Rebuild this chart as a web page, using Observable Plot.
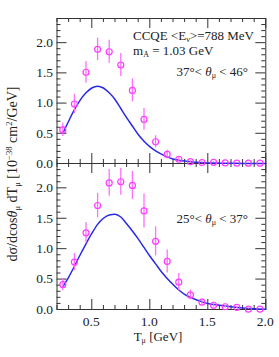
<!DOCTYPE html>
<html><head><meta charset="utf-8">
<script src="https://cdn.jsdelivr.net/npm/d3@7"></script>
<script src="https://cdn.jsdelivr.net/npm/@observablehq/plot@0.6"></script>
<style>
body{margin:0;background:#fff}
#chart{position:relative;width:279px;height:357px;background:#fff}
#chart svg{position:absolute;left:0;top:0}
</style></head><body><div id="chart"></div>
<script>
// ---- data ----
const binCenters = [0.25,0.35,0.45,0.55,0.65,0.75,0.85,0.95,1.05,1.15,1.25,1.35,1.45,1.55,1.65,1.75,1.85,1.95];
// 37° < theta < 46°
const upperValues = [0.555,0.985,1.51,1.89,1.85,1.63,1.21,0.73,0.36,0.15,0.07,0.03,0.015,0.02,0.01,0.006,0.005,0.005];
const upperErrors = [0.11,0.16,0.18,0.185,0.19,0.19,0.19,0.18,0.10,0.07,0.04,0.02,0.01,0.01,0.008,0.005,0.005,0.005];
// 25° < theta < 37°
const lowerValues = [0.41,0.78,1.26,1.71,2.08,2.10,2.04,1.62,1.12,0.79,0.45,0.24,0.12,0.07,0.045,0.035,0.005,0.005];
const lowerErrors = [0.10,0.14,0.17,0.20,0.22,0.22,0.23,0.28,0.24,0.19,0.14,0.08,0.05,0.03,0.02,0.02,0.005,0.005];
// model curves (m_A = 1.03 GeV)
const curveT     = [0.25,0.30,0.35,0.40,0.45,0.50,0.55,0.60,0.65,0.70,0.75,0.80,0.85,0.90,0.95,1.00,1.05,1.10,1.15,1.20,1.25,1.30,1.35,1.40,1.45,1.50,1.60,1.70,1.80,1.90,2.00];
const upperCurve = [0.50,0.70,0.89,1.05,1.17,1.25,1.28,1.25,1.17,1.06,0.91,0.76,0.62,0.48,0.37,0.28,0.21,0.155,0.11,0.075,0.055,0.04,0.03,0.02,0.015,0.01,0.006,0.004,0.002,0.001,0.0];
const lowerCurve = [0.375,0.53,0.71,0.90,1.08,1.25,1.40,1.50,1.555,1.565,1.52,1.41,1.29,1.16,1.02,0.88,0.75,0.62,0.51,0.41,0.32,0.25,0.20,0.16,0.125,0.10,0.07,0.045,0.025,0.012,0.005];
// axes
const xDomain = [0.2, 2.0];
const yDomain = [0, 2.4];
const xMajor = [0.5, 1.0, 1.5, 2.0];
const xMinor = [0.2,0.3,0.4,0.6,0.7,0.8,0.9,1.1,1.2,1.3,1.4,1.6,1.7,1.8,1.9];
const yMajor = [0.0, 0.5, 1.0, 1.5, 2.0];
const yMinor = [0.1,0.2,0.3,0.4,0.6,0.7,0.8,0.9,1.1,1.2,1.3,1.4,1.6,1.7,1.8,1.9,2.1,2.2,2.3];

const W = 279, ML = 56.5, MR = 13.7;
const FONT = "Liberation Serif";
const FS = "13.5px";
const PT = "#ff3cff", BAR = "#ff70ff", LINE = "#2a2ae6", TICK = "#333";

function panel({values, errors, curve, height, marginTop, marginBottom, background}) {
  const innerH = height - marginTop - marginBottom;
  const innerW = W - ML - MR;
  const pts = binCenters.map((t, i) => ({t, v: values[i], e: errors[i]}));
  const line = curveT.map((t, i) => ({t, v: curve[i]}));
  const tx = (vals, len) => [
    Plot.tickX(vals, {x: d => d, insetTop: innerH - len, stroke: TICK}),
    Plot.tickX(vals, {x: d => d, insetBottom: innerH - len, stroke: TICK})
  ];
  const ty = (vals, len) => [
    Plot.tickY(vals, {y: d => d, insetRight: innerW - len, stroke: TICK}),
    Plot.tickY(vals, {y: d => d, insetLeft: innerW - len, stroke: TICK})
  ];
  return Plot.plot({
    width: W, height, marginLeft: ML, marginRight: MR, marginTop, marginBottom,
    style: {fontFamily: FONT, fontSize: FS, background, color: "#222"},
    x: {domain: xDomain, axis: null},
    y: {domain: yDomain, axis: null},
    marks: [
      ...tx(xMinor, 4), ...tx(xMajor, 10),
      ...ty(yMinor, 4), ...ty(yMajor, 10),
      Plot.frame({stroke: TICK}),
      Plot.line(line, {x: "t", y: "v", stroke: LINE, strokeWidth: 1.5, curve: "monotone-x"}),
      Plot.ruleX(pts, {x: "t", y1: d => Math.max(0, d.v - d.e), y2: d => d.v + d.e, stroke: BAR, strokeWidth: 1.3}),
      Plot.dot(pts, {x: "t", y: "v", r: 3, stroke: PT, fill: "none", strokeWidth: 1.2}),
      Plot.axisY({ticks: yMajor, anchor: "left", tickSize: 0, tickPadding: 4, tickFormat: d3.format(".1f"), label: null})
    ]
  });
}

// upper panel: y range 163 → 18 ; extra bottom room so the "0.0" label is not cut
const upper = panel({values: upperValues, errors: upperErrors, curve: upperCurve,
  height: 175, marginTop: 18, marginBottom: 12, background: "transparent"});
// lower panel: y range 309 → 163
const lower = panel({values: lowerValues, errors: lowerErrors, curve: lowerCurve,
  height: 357, marginTop: 163, marginBottom: 48, background: "white"});

const chart = document.getElementById("chart");
chart.appendChild(lower);
chart.appendChild(upper);

const xs = lower.scale("x");
const sl = d3.select(lower);
sl.append("g").attr("font-family", FONT).attr("font-size", FS).attr("fill", "#222")
  .attr("text-anchor", "middle")
  .selectAll("text").data(xMajor).join("text")
  .attr("x", d => xs.apply(d)).attr("y", 326)
  .text(d3.format(".1f"));

function rich(sel, parts) {
  parts.forEach(([t, m]) => {
    const ts = sel.append("tspan").text(t);
    if (m === "sub") ts.attr("font-size", "0.62em").attr("baseline-shift", "-28%");
    if (m === "sup") ts.attr("font-size", "0.62em").attr("baseline-shift", "55%");
    if (m === "it") ts.attr("font-style", "italic");
  });
  return sel;
}

const su = d3.select(upper);
const gu = su.append("g").attr("font-family", FONT).attr("font-size", "13px").attr("fill", "#222").attr("text-anchor", "start");
rich(gu.append("text").attr("x", 133).attr("y", 40), [["CCQE <E",""],["ν","sub"],[">=788 MeV",""]]);
rich(gu.append("text").attr("x", 133).attr("y", 55), [["m",""],["A","sub"],[" = 1.03 GeV",""]]);
rich(gu.append("text").attr("x", 248).attr("y", 76).attr("text-anchor", "end"), [["37°< ",""],["θ","it"],["μ","sub"],[" < 46°",""]]);

const gl = sl.append("g").attr("font-family", FONT).attr("font-size", "13px").attr("fill", "#222").attr("text-anchor", "start");
rich(gl.append("text").attr("x", 248).attr("y", 222.5).attr("text-anchor", "end"), [["25°< ",""],["θ","it"],["μ","sub"],[" < 37°",""]]);
rich(gl.append("text").attr("x", 158).attr("y", 341).attr("text-anchor", "middle"), [["T",""],["μ","sub"],[" [GeV]",""]]);
rich(gl.append("text").attr("transform", "translate(17,174) rotate(-90)").attr("text-anchor", "middle").attr("font-size", "14px"),
  [["dσ/dcos",""],["θ","it"],["μ","sub"],[" dT",""],["μ","sub"],[" [10",""],["−38","sup"],[" cm",""],["2","sup"],["/GeV]",""]]);
</script></body></html>
